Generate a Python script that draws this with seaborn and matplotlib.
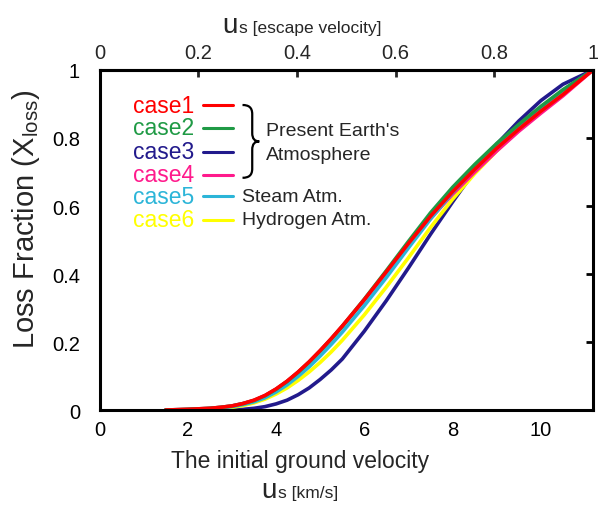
import numpy as np
import pandas as pd
import matplotlib
matplotlib.use('Agg')
import matplotlib.pyplot as plt
from matplotlib.offsetbox import TextArea, HPacker, AnnotationBbox
from matplotlib.path import Path
from matplotlib.patches import PathPatch
import seaborn as sns

# datos
v_esc = 11.18
vel = [1.5, 2, 2.5, 2.75, 3, 3.25, 3.5, 3.75, 4, 4.25, 4.5, 4.75, 5, 5.25, 5.5,
       6, 6.5, 7, 7.5, 8, 8.5, 9, 9.5, 10, 10.5, 11.18]
case1 = [0, 0.002, 0.005, 0.008, 0.012, 0.019, 0.029, 0.043, 0.062, 0.085, 0.112, 0.142, 0.175, 0.210, 0.247,
         0.325, 0.407, 0.490, 0.570, 0.642, 0.708, 0.770, 0.826, 0.879, 0.928, 1.0]
case2 = [0, 0.002, 0.005, 0.008, 0.012, 0.019, 0.028, 0.042, 0.061, 0.084, 0.111, 0.141, 0.174, 0.209, 0.246,
         0.326, 0.410, 0.496, 0.580, 0.655, 0.722, 0.784, 0.840, 0.893, 0.942, 1.0]
case3 = [0, 0, 0, 0, 0.001, 0.002, 0.005, 0.010, 0.018, 0.029, 0.045, 0.065, 0.090, 0.118, 0.150,
         0.232, 0.322, 0.418, 0.517, 0.612, 0.703, 0.782, 0.850, 0.910, 0.958, 1.0]
case4 = [0, 0.002, 0.005, 0.008, 0.012, 0.019, 0.028, 0.042, 0.061, 0.084, 0.111, 0.141, 0.174, 0.209, 0.246,
         0.323, 0.404, 0.485, 0.563, 0.635, 0.700, 0.762, 0.820, 0.873, 0.924, 1.0]
case5 = [0, 0.001, 0.004, 0.006, 0.010, 0.016, 0.024, 0.036, 0.053, 0.074, 0.099, 0.127, 0.159, 0.193, 0.229,
         0.307, 0.390, 0.477, 0.562, 0.640, 0.710, 0.775, 0.834, 0.889, 0.940, 1.0]
case6 = [0, 0.001, 0.002, 0.004, 0.008, 0.013, 0.021, 0.032, 0.047, 0.065, 0.087, 0.112, 0.140, 0.171, 0.205,
         0.280, 0.362, 0.448, 0.537, 0.620, 0.695, 0.762, 0.824, 0.880, 0.932, 1.0]

casos = ['case1', 'case2', 'case3', 'case4', 'case5', 'case6']
colores = ['#ff0000', '#1f9a45', '#221a8c', '#ff1a8c', '#2cb5d8', '#ffff00']
orden_dibujo = ['case3', 'case6', 'case4', 'case5', 'case2', 'case1']
y_ticks = [0, 0.2, 0.4, 0.6, 0.8, 1]
y_labels = ['0', '0.2', '0.4', '0.6', '0.8', '1']
x_ticks = [0, 2, 4, 6, 8, 10]
top_ticks = [0, 0.2, 0.4, 0.6, 0.8, 1]
top_labels = ['0', '0.2', '0.4', '0.6', '0.8', '1']

sns.set_style('white')
plt.rcParams['font.family'] = ['Liberation Sans', 'DejaVu Sans']
plt.rcParams['mathtext.fontset'] = 'custom'
plt.rcParams['mathtext.rm'] = 'Liberation Sans'
plt.rcParams['mathtext.it'] = 'Liberation Sans'

df = pd.DataFrame({'vel': vel, 'case1': case1, 'case2': case2, 'case3': case3,
                   'case4': case4, 'case5': case5, 'case6': case6})
largo = df.melt(id_vars='vel', var_name='caso', value_name='loss')
paleta = dict(zip(casos, colores))

fig = plt.figure(figsize=(5.98, 5.06), dpi=100)
ax = fig.add_axes([0.1664, 0.1877, 0.8252, 0.672])

for c in orden_dibujo:
    sns.lineplot(data=largo[largo['caso'] == c], x='vel', y='loss', color=paleta[c],
                 lw=2.6, ax=ax, legend=False)

ax.set_xlim(0, v_esc)
ax.set_ylim(0, 1)
ax.set_xticks(x_ticks)
ax.set_xticklabels([str(t) for t in x_ticks])
ax.set_yticks(y_ticks)
ax.set_yticklabels(y_labels)
ax.tick_params(axis='both', direction='in', length=5, width=2, labelsize=14.5,
               right=True, colors='black')
ax.tick_params(axis='x', pad=7)
ax.tick_params(axis='y', pad=14)
for s in ax.spines.values():
    s.set_linewidth(2.2)
    s.set_color('black')

sec = ax.secondary_xaxis('top', functions=(lambda x: x / v_esc, lambda x: x * v_esc))
sec.set_xticks(top_ticks)
sec.set_xticklabels(top_labels)
sec.tick_params(direction='in', length=5, width=2, labelsize=14.5, pad=6)
sec.spines['top'].set_linewidth(2.2)

ax.set_xlabel('')
ax.set_ylabel(r'Loss Fraction (X$_{\mathrm{loss}}$)', fontsize=21)
ax.yaxis.set_label_coords(-0.117, 0.565)

fig.text(0.502, 0.075, 'The initial ground velocity', ha='center', va='baseline', fontsize=16.5)


def etiqueta_u(texto, pos):
    caja = HPacker(children=[TextArea('u', textprops=dict(size=20, family='Liberation Sans')),
                             TextArea(texto, textprops=dict(size=12.5, family='Liberation Sans'))],
                   align='baseline', pad=0, sep=1)
    ab = AnnotationBbox(caja, pos, xycoords='figure fraction', frameon=False,
                        box_alignment=(0.5, 0.5))
    fig.add_artist(ab)


etiqueta_u('s [escape velocity]', (0.505, 0.948))
etiqueta_u('s [km/s]', (0.502, 0.030))

# leyenda manual
filas_y = [0.897, 0.830, 0.760, 0.692, 0.628, 0.560]
for c, col, yy in zip(casos, colores, filas_y):
    ax.text(2.15, yy, c, color=col, ha='right', va='center', fontsize=16.5)
    ax.plot([2.34, 3.02], [yy, yy], color=col, lw=2.2)

# llave
verts = [(3.24, 0.897), (3.38, 0.897), (3.46, 0.890), (3.46, 0.870),
         (3.46, 0.815),
         (3.46, 0.797), (3.52, 0.790), (3.62, 0.790),
         (3.52, 0.790), (3.46, 0.783), (3.46, 0.765),
         (3.46, 0.710),
         (3.46, 0.690), (3.38, 0.683), (3.24, 0.683)]
codes = [Path.MOVETO, Path.CURVE4, Path.CURVE4, Path.CURVE4,
         Path.LINETO,
         Path.CURVE4, Path.CURVE4, Path.CURVE4,
         Path.CURVE4, Path.CURVE4, Path.CURVE4,
         Path.LINETO,
         Path.CURVE4, Path.CURVE4, Path.CURVE4]
ax.add_patch(PathPatch(Path(verts, codes), fill=False, lw=1.6, color='black'))

ax.text(3.78, 0.823, "Present Earth's", fontsize=14, va='center')
ax.text(3.78, 0.752, 'Atmosphere', fontsize=14, va='center')
ax.text(3.22, 0.628, 'Steam Atm.', fontsize=14, va='center')
ax.text(3.22, 0.560, 'Hydrogen Atm.', fontsize=14, va='center')

fig.savefig('out.png', dpi=100)
